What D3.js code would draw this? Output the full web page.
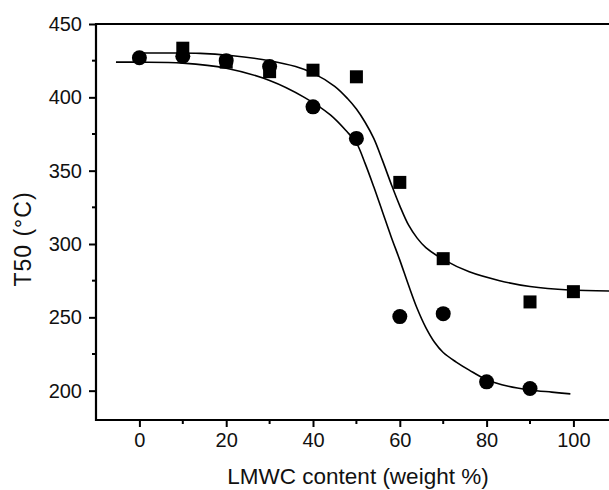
<!DOCTYPE html>
<html>
<head>
<meta charset="utf-8">
<script src="https://cdn.jsdelivr.net/npm/d3@7/dist/d3.min.js"></script>
<style>
  html, body { margin: 0; padding: 0; background: #fff; }
  svg { display: block; }
  text { font-family: "Liberation Sans", Arial, sans-serif; fill: #111; }
</style>
</head>
<body>
<svg id="chart" width="609" height="490"></svg>
<script>
// Measured T50 values (°C) against LMWC content (weight %)
const squareX = [10, 20, 30, 40, 50, 60, 70, 90, 100];
const squareT50 = [433.5, 424, 417.5, 418.5, 414, 342, 290, 260.5, 267.5];

const circleX = [0, 10, 20, 30, 40, 50, 60, 70, 80, 90];
const circleT50 = [427, 428, 425, 421, 393.5, 372, 250.5, 252.5, 206, 201.5];

// Sigmoidal fit curves, sampled along x
const squareFitX = [-1, 5, 14, 21, 30, 36, 40, 45, 48, 50, 52, 54, 56, 58, 60, 62, 64, 66, 70, 76, 83, 90, 99, 110];
const squareFitT = [430.2, 430.2, 430, 428.5, 425, 421, 416.5, 407.5, 399, 392, 383, 372, 357, 341, 326, 313, 304, 297.5, 289.5, 281, 275, 271, 268.6, 267.9];

const circleFitX = [-5.4, 0, 10, 20, 30, 38, 44, 48, 50, 52, 54, 56, 58, 60, 62, 64, 66, 68, 70, 73, 76, 80, 85, 90, 95, 99.3];
const circleFitT = [424, 424, 423.3, 419.8, 411.5, 400, 388, 376, 369, 355, 339, 322, 305, 289, 272, 256, 243, 233, 226, 219.5, 214, 207.5, 203, 200.5, 199, 197.8];

// Axis ticks
const xMajor = [0, 20, 40, 60, 80, 100];
const xMinor = [10, 30, 50, 70, 90];
const yMajor = [200, 250, 300, 350, 400, 450];
const yMinor = [225, 275, 325, 375, 425];

const xTitle = "LMWC content (weight %)";
const yTitle = "T50 (\u00B0C)";

const svg = d3.select("#chart");
const plotLeft = 96, plotRight = 609, plotTop = 24, plotBottom = 420;

const x = d3.scaleLinear().domain([-10, 108.2]).range([plotLeft, plotRight]);
const y = d3.scaleLinear().domain([180, 450]).range([plotBottom, plotTop]);

// Top frame edge (the right edge sits past the canvas)
svg.append("line").attr("x1", plotLeft).attr("x2", plotRight + 5).attr("y1", plotTop).attr("y2", plotTop)
  .attr("stroke", "#000").attr("stroke-width", 2);

// Axes
const xAxis = svg.append("g").attr("transform", `translate(0,${plotBottom})`)
  .call(d3.axisBottom(x).tickValues(xMajor).tickSize(7).tickSizeOuter(0).tickPadding(6).tickFormat(d3.format("d")));
xAxis.append("g").selectAll("line").data(xMinor).join("line")
  .attr("x1", d => x(d)).attr("x2", d => x(d)).attr("y1", 0).attr("y2", 4)
  .attr("stroke", "#000").attr("stroke-width", 2);

const yAxis = svg.append("g").attr("transform", `translate(${plotLeft},0)`)
  .call(d3.axisLeft(y).tickValues(yMajor).tickSize(7).tickSizeOuter(0).tickPadding(7).tickFormat(d3.format("d")));
yAxis.append("g").selectAll("line").data(yMinor).join("line")
  .attr("x1", 0).attr("x2", -4).attr("y1", d => y(d)).attr("y2", d => y(d))
  .attr("stroke", "#000").attr("stroke-width", 2);

[xAxis, yAxis].forEach(g => {
  g.select(".domain").attr("stroke", "#000").attr("stroke-width", 2.2);
  g.selectAll(".tick line").attr("stroke", "#000").attr("stroke-width", 2);
  g.selectAll(".tick text").attr("font-size", 20).attr("fill", "#111")
    .attr("font-family", "'Liberation Sans', Arial, sans-serif");
});
xAxis.select(".domain").attr("d", `M${plotLeft - 1},0H${plotRight + 5}`);
yAxis.select(".domain").attr("d", `M0,${plotTop - 1}V${plotBottom + 1}`);

// Axis titles
svg.append("text").attr("x", 358).attr("y", 484).attr("text-anchor", "middle")
  .attr("font-size", 22.5).text(xTitle);
svg.append("text").attr("transform", "translate(31,239) rotate(-90)")
  .attr("text-anchor", "middle").attr("font-size", 23).attr("letter-spacing", 1).text(yTitle);

// Fit curves
const line = d3.line().x(d => x(d[0])).y(d => y(d[1])).curve(d3.curveCatmullRom.alpha(0.5));
svg.append("path").datum(d3.zip(squareFitX, squareFitT)).attr("d", line)
  .attr("fill", "none").attr("stroke", "#000").attr("stroke-width", 1.6);
svg.append("path").datum(d3.zip(circleFitX, circleFitT)).attr("d", line)
  .attr("fill", "none").attr("stroke", "#000").attr("stroke-width", 1.6);

// Markers
const sq = 13;
svg.append("g").selectAll("rect").data(d3.zip(squareX, squareT50)).join("rect")
  .attr("x", d => x(d[0]) - sq / 2).attr("y", d => y(d[1]) - sq / 2)
  .attr("width", sq).attr("height", sq).attr("fill", "#000");
svg.append("g").selectAll("circle").data(d3.zip(circleX, circleT50)).join("circle")
  .attr("cx", d => x(d[0])).attr("cy", d => y(d[1])).attr("r", 7.5).attr("fill", "#000");
</script>
</body>
</html>
